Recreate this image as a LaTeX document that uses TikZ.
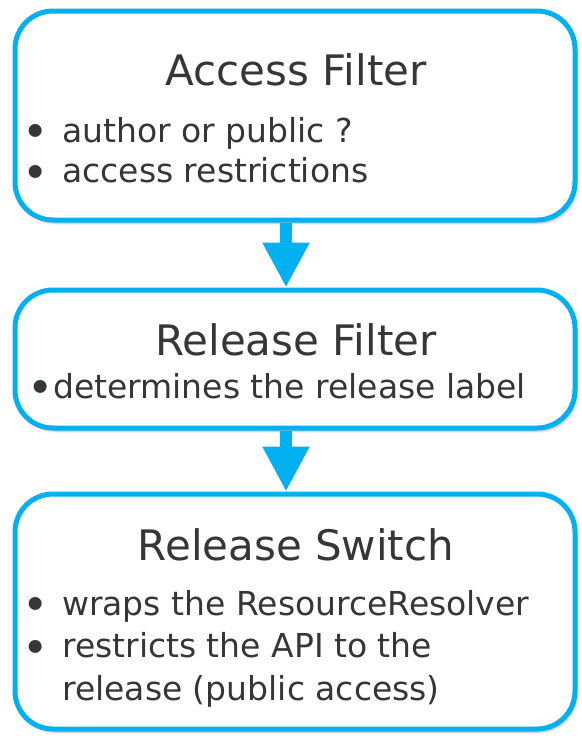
\documentclass[tikz,border=0pt]{standalone}
\usepackage{fontspec}
\setmainfont{DejaVu Sans}
\usepackage{xcolor}
\definecolor{FlowBlue}{HTML}{00B0F0}
\definecolor{TextGray}{HTML}{363636}
\usepackage{tikz}
\usetikzlibrary{arrows.meta, shadows.blur}

% bullet in a box of given width
\newcommand{\itm}[1]{\makebox[#1][l]{\raisebox{-5.5pt}{\scalebox{1.35}{\textbullet}}}}

\begin{document}
\begin{tikzpicture}[x=1pt, y=-1pt,
    stage/.style={draw=FlowBlue, line width=5pt, fill=white, rounded corners=38pt,
      minimum width=560pt, inner sep=0pt,
      blur shadow={shadow xshift=2pt, shadow yshift=-3pt, shadow opacity=30, shadow blur steps=6}},
    title/.style={anchor=base, text=TextGray, font=\fontsize{42}{50}\selectfont},
    body/.style={anchor=base west, text=TextGray, inner sep=0pt},
    flow/.style={draw=FlowBlue, line width=12pt, -{Triangle[width=44pt, length=45pt]}}]
  % page frame (581 x 736 px)
  \useasboundingbox (0,0) rectangle (581,736);

  % Boxes
  \node[stage, minimum height=209pt] (access)  at (295,115.5) {};
  \node[stage, minimum height=138pt] (release) at (295,359)   {};
  \node[stage, minimum height=235pt] (switch)  at (295,611.5) {};

  % Arrows (slightly left of centre)
  \coordinate (ax) at (286,0);
  \draw[flow] (access.south -| ax) -- (release.north -| ax);
  \draw[flow] (release.south -| ax) -- (switch.north -| ax);

  % Titles
  \node[title] (accessT)  at (296,85)  {Access Filter};
  \node[title] (releaseT) at (296,355) {Release Filter};
  \node[title] (switchT)  at (296,560) {Release Switch};

  % Bullet lines
  \node[body] (accessB) at (22,142) {\fontsize{33}{40.5}\selectfont
    \begin{tabular}[t]{@{}l@{}l@{}}
      \itm{40pt} & author or public ? \\
      \itm{40pt} & access restrictions
    \end{tabular}};
  \node[body] (releaseB) at (27,398) {\fontsize{33}{40.5}\selectfont
    \itm{26pt}determines the release label};
  \node[body] (switchB) at (22,615) {\fontsize{33}{42.5}\selectfont
    \begin{tabular}[t]{@{}l@{}l@{}}
      \itm{40pt} & wraps the ResourceResolver \\
      \itm{40pt} & restricts the API to the \\
                 & release (public access)
    \end{tabular}};
\end{tikzpicture}
\end{document}
